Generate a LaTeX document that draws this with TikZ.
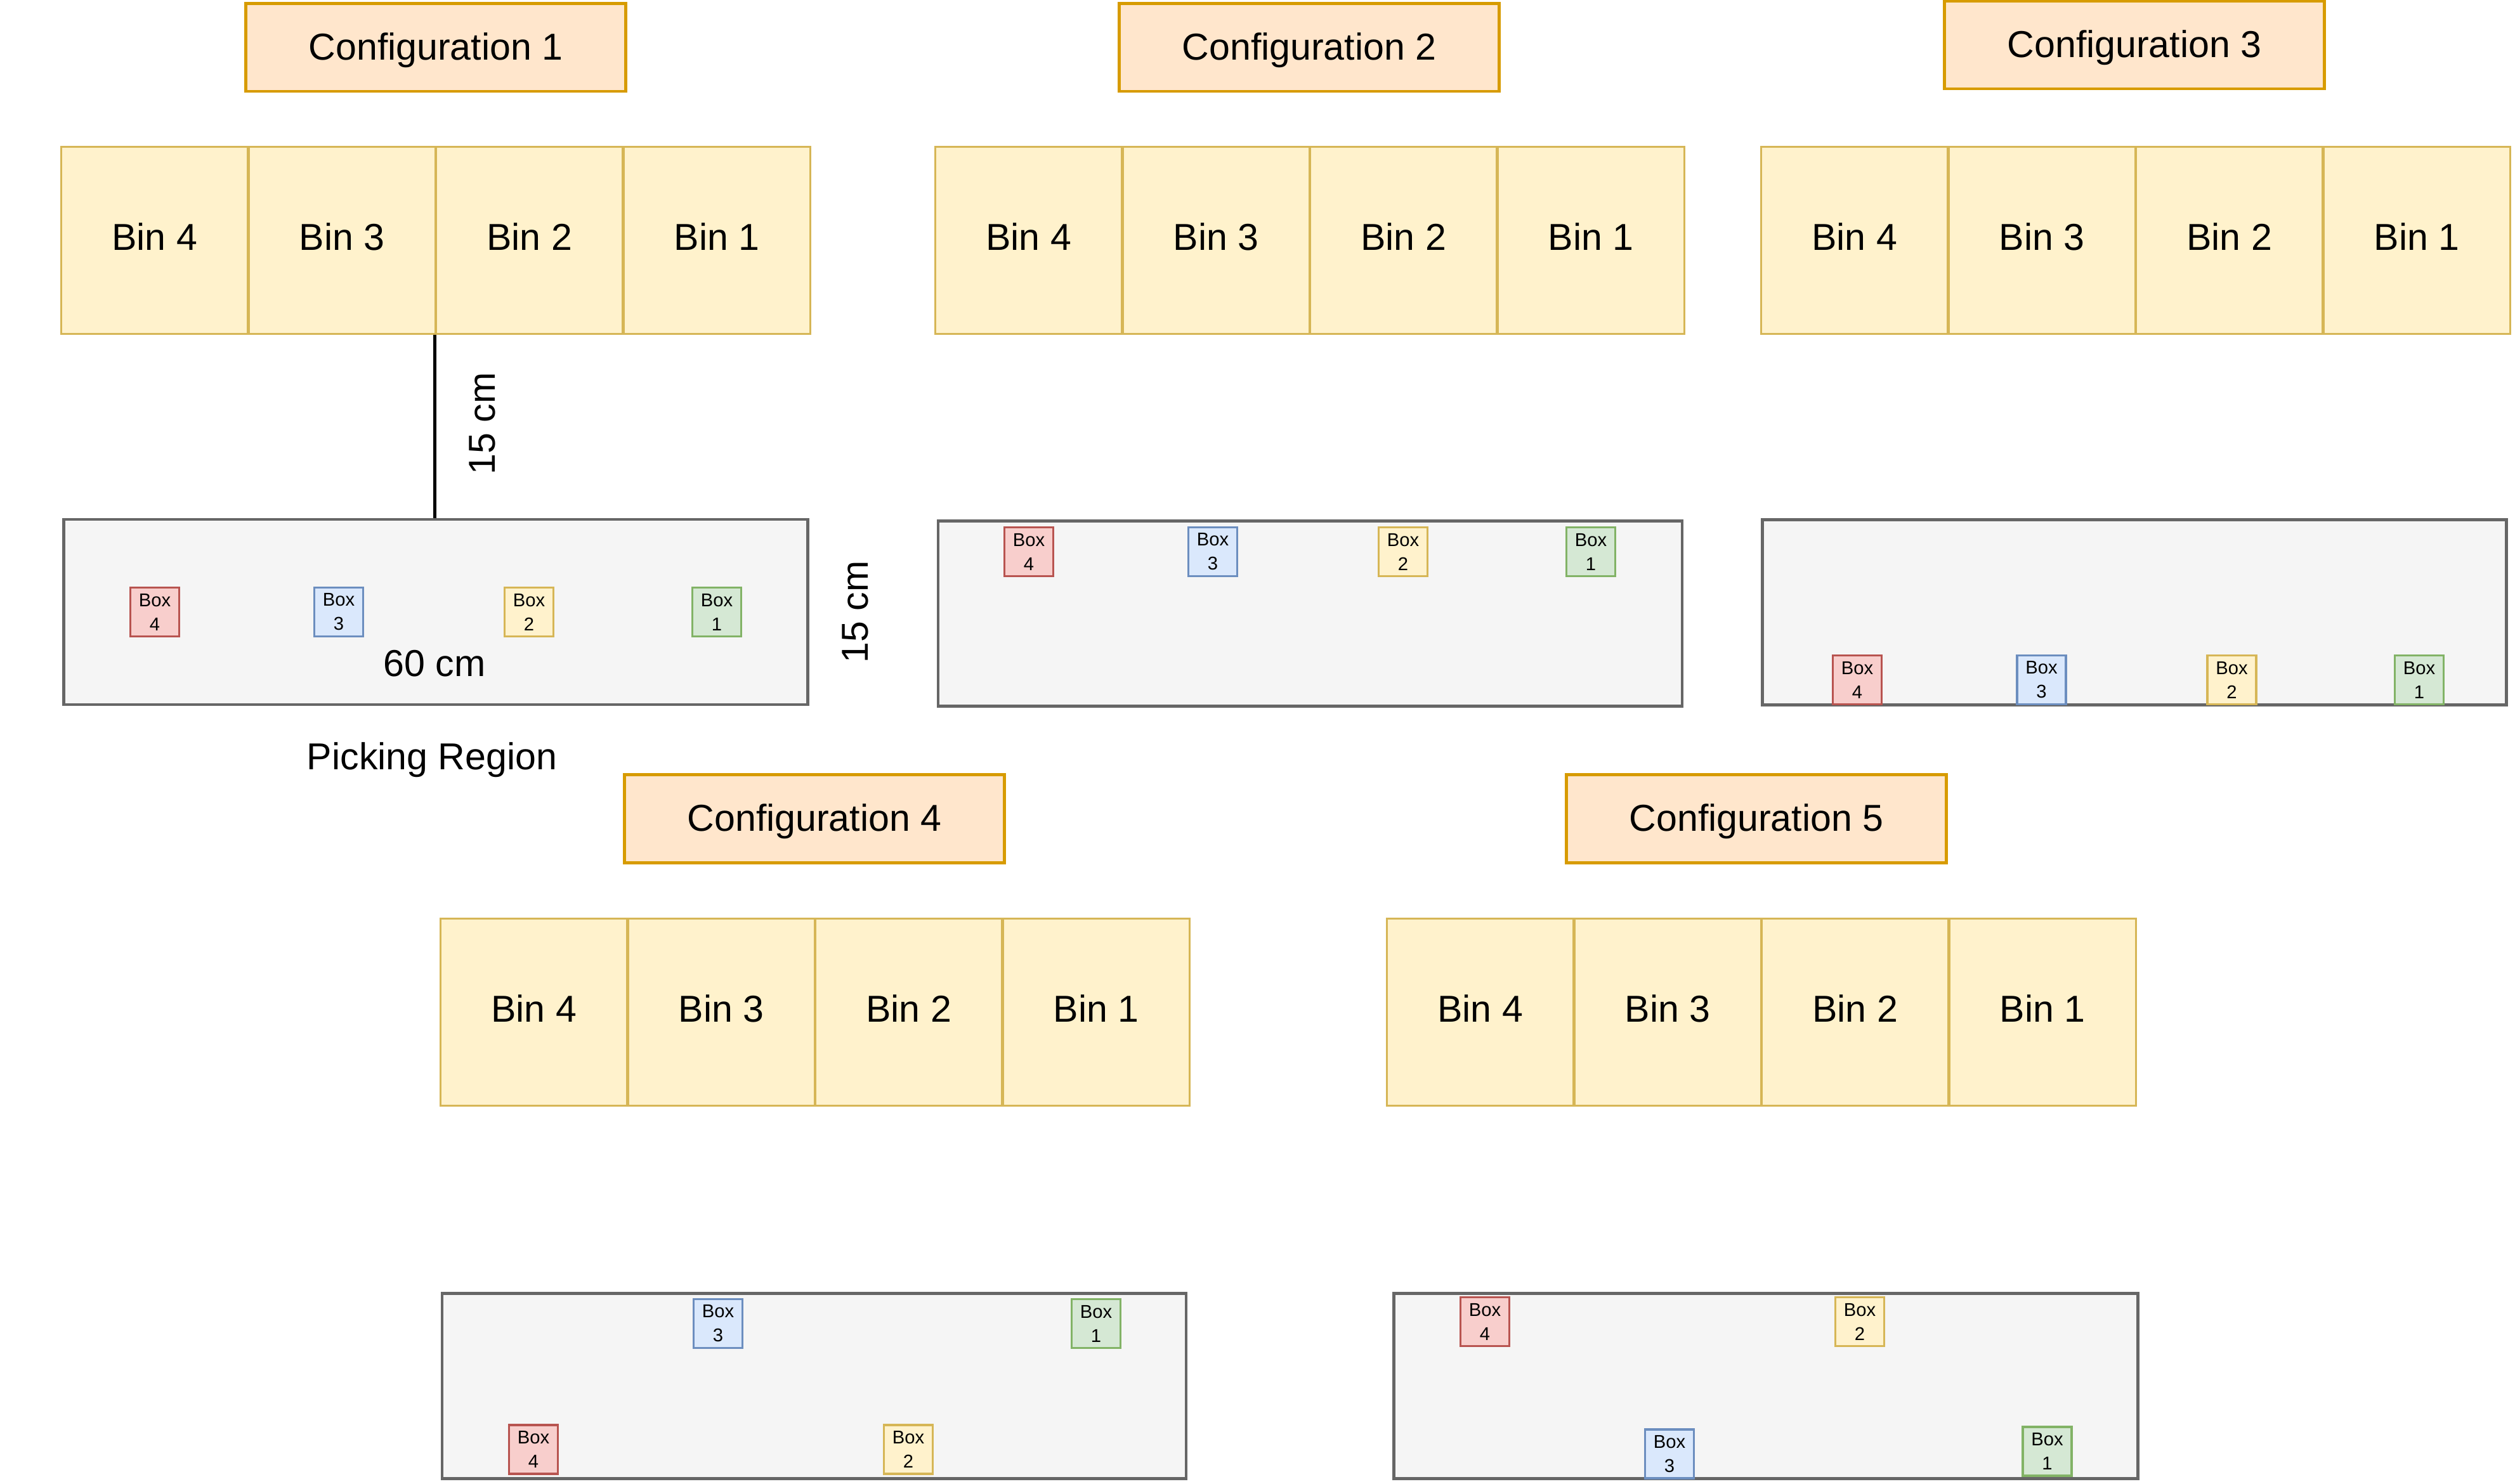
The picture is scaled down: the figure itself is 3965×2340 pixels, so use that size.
\documentclass[tikz,border=0pt]{standalone}
\usepackage{fontspec}
\setmainfont{Liberation Sans}
\definecolor{cfgfill}{HTML}{FFE6CC}
\definecolor{cfgdraw}{HTML}{D79B00}
\definecolor{binfill}{HTML}{FFF2CC}
\definecolor{bindraw}{HTML}{D6B656}
\definecolor{regfill}{HTML}{F5F5F5}
\definecolor{regdraw}{HTML}{666666}
\definecolor{redfill}{HTML}{F8CECC}
\definecolor{reddraw}{HTML}{B85450}
\definecolor{bluefill}{HTML}{DAE8FC}
\definecolor{bluedraw}{HTML}{6C8EBF}
\definecolor{greenfill}{HTML}{D5E8D4}
\definecolor{greendraw}{HTML}{82B366}
\newcommand\bigtxt{\fontsize{16.8}{20}\selectfont}
\newcommand\boxtxt{\fontsize{8.3}{10.8}\selectfont}
\begin{document}
\begin{tikzpicture}[x=0.01cm,y=-0.01cm,
  cfg/.style={draw=cfgdraw,fill=cfgfill,line width=1.4pt,minimum width=5.98cm,minimum height=1.38cm,inner sep=0pt,font=\bigtxt,text height=0.42cm,text depth=0.04cm},
  bin/.style={draw=bindraw,fill=binfill,line width=1pt,minimum width=2.945cm,minimum height=2.945cm,inner sep=0pt,font=\bigtxt,text height=0.42cm,text depth=0.11cm},
  region/.style={draw=regdraw,fill=regfill,line width=1.25pt,minimum width=11.72cm,minimum height=2.92cm,inner sep=0pt},
  boxbase/.style={line width=1.1pt,minimum width=0.77cm,minimum height=0.77cm,inner sep=0pt,align=center,font=\boxtxt},
  bxfour/.style={boxbase,draw=reddraw,fill=redfill},
  bxthree/.style={boxbase,draw=bluedraw,fill=bluefill},
  bxtwo/.style={boxbase,draw=bindraw,fill=binfill},
  bxone/.style={boxbase,draw=greendraw,fill=greenfill},
  lbl/.style={font=\bigtxt,inner sep=0pt}]
\useasboundingbox (0,0) rectangle (3965,2340);

% configuration titles
\node[cfg] (cfg1) at (687,75) {Configuration 1};
\node[cfg] (cfg2) at (2064,75) {Configuration 2};
\node[cfg] (cfg3) at (3365,71) {Configuration 3};
\node[cfg] (cfg4) at (1284,1291) {Configuration 4};
\node[cfg] (cfg5) at (2769,1291) {Configuration 5};

% bins
\foreach \c/\sx/\yy in {1/96/379, 2/1474/379, 3/2776/379, 4/694/1596, 5/2186/1596} {
  \foreach \i/\n in {0/4,1/3,2/2,3/1} {
    \node[bin] (c\c b\n) at ({\sx+147.75+295.5*\i},\yy) {Bin \n};
  }
}

% picking regions
\node[region] (r1) at (687,965) {};
\node[region] (r2) at (2065.5,967.5) {};
\node[region] (r3) at (3365,965.5) {};
\node[region] (r4) at (1283.5,2185.5) {};
\node[region] (r5) at (2784,2185.5) {};

% boxes, configuration 1
\node[bxfour]  (r1x4) at (244,965)  {Box\\4};
\node[bxthree] (r1x3) at (534,965)  {Box\\3};
\node[bxtwo]   (r1x2) at (834,965)  {Box\\2};
\node[bxone]   (r1x1) at (1130,965) {Box\\1};
% configuration 2
\node[bxfour]  (r2x4) at (1622,870) {Box\\4};
\node[bxthree] (r2x3) at (1912,870) {Box\\3};
\node[bxtwo]   (r2x2) at (2212,870) {Box\\2};
\node[bxone]   (r2x1) at (2508,870) {Box\\1};
% configuration 3
\node[bxfour]  (r3x4) at (2928,1072)   {Box\\4};
\node[bxthree] (r3x3) at (3218.5,1072) {Box\\3};
\node[bxtwo]   (r3x2) at (3518.5,1072) {Box\\2};
\node[bxone]   (r3x1) at (3814,1072)   {Box\\1};
% configuration 4
\node[bxfour]  (r4x4) at (841,2285.5)  {Box\\4};
\node[bxthree] (r4x3) at (1132,2087)   {Box\\3};
\node[bxtwo]   (r4x2) at (1432,2285.5) {Box\\2};
\node[bxone]   (r4x1) at (1728,2087)   {Box\\1};
% configuration 5
\node[bxfour]  (r5x4) at (2341,2084)   {Box\\4};
\node[bxthree] (r5x3) at (2632,2292.5) {Box\\3};
\node[bxtwo]   (r5x2) at (2932,2084)   {Box\\2};
\node[bxone]   (r5x1) at (3227.5,2288.5) {Box\\1};

% dimension line and labels
\draw[line width=1.3pt,black] (c1b2.south west) -- (c1b2.south west |- r1.north);
\node[lbl,rotate=90] (d15a) at (760,668) {15 cm};
\node[lbl,rotate=90] (d15b) at (1348,965) {15 cm};
\node[lbl] (d60) at (685,1046) {60 cm};
\node[lbl] (pick) at (681,1198) {Picking Region};
\end{tikzpicture}
\end{document}
